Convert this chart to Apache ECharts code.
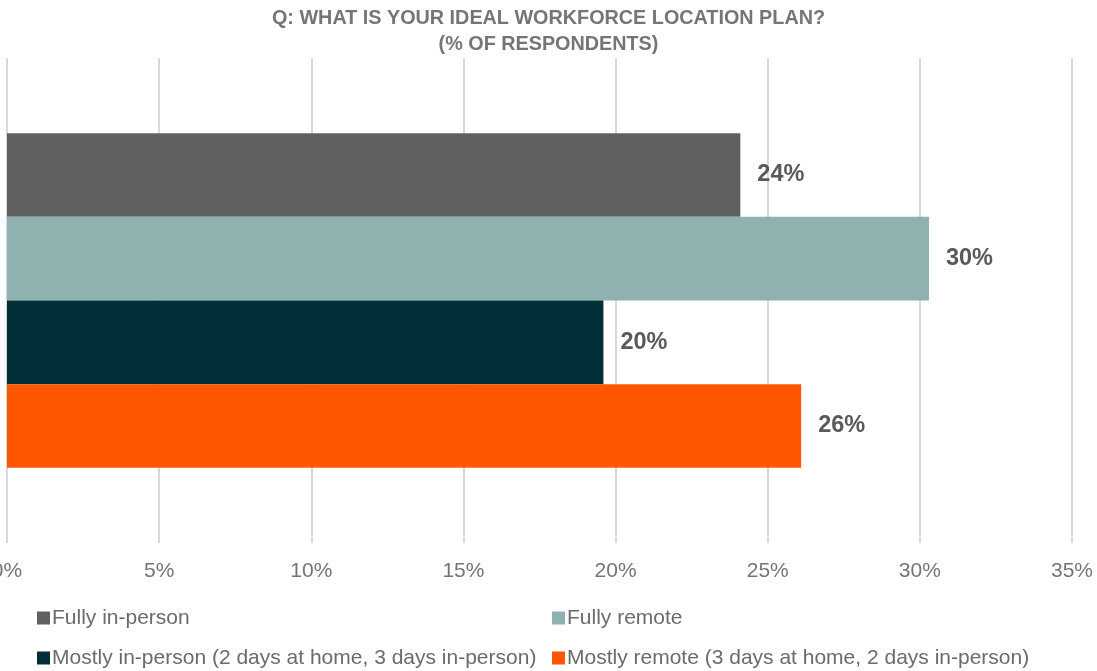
<!DOCTYPE html>
<html>
<head>
<meta charset="utf-8">
<script src="https://cdn.jsdelivr.net/npm/echarts@6/dist/echarts.min.js"></script>
<style>
  html, body { margin: 0; padding: 0; background: #fff; }
  #chart { width: 1097px; height: 671px; }
</style>
</head>
<body>
<div id="chart"></div>
<script>
// data
const categories = ['Ideal plan']
const seriesNames = [
  'Fully in-person',
  'Fully remote',
  'Mostly in-person (2 days at home, 3 days in-person)',
  'Mostly remote (3 days at home, 2 days in-person)'
]
const fullyInPerson = [24.1]
const fullyRemote = [30.3]
const mostlyInPerson = [19.6]
const mostlyRemote = [26.1]
const xTicks = [0, 5, 10, 15, 20, 25, 30, 35]

const colors = ['#606060', '#8FB2B1', '#012F38', '#FF5600']
const font = 'Liberation Sans, Arial, sans-serif'

const myChart = echarts.init(document.getElementById('chart'))

const makeSeries = (name, data, i) => ({
  name: name,
  type: 'bar',
  data: data,
  barGap: '0%',
  barCategoryGap: '31%',
  itemStyle: { color: colors[i] },
  label: {
    show: true,
    position: 'right',
    distance: 17,
    fontFamily: font,
    fontSize: 23.5,
    fontWeight: 'bold',
    color: '#595959',
    padding: [5, 0, 0, 0],
    formatter: p => Math.round(p.value) + '%'
  }
})

const legendText = { fontFamily: font, fontSize: 21, color: '#6b6b6b', padding: [0, 0, 0, -3], lineHeight: 22 }

const option = {
  animation: false,
  title: {
    text: 'Q: WHAT IS YOUR IDEAL WORKFORCE LOCATION PLAN?\n(% OF RESPONDENTS)',
    left: 'center',
    top: 6,
    padding: 0,
    textStyle: {
      fontFamily: font,
      fontSize: 19.8,
      fontWeight: 'bold',
      color: '#757575',
      lineHeight: 26
    }
  },
  legend: [
    {
      data: [seriesNames[0], seriesNames[2]],
      orient: 'vertical',
      left: 37,
      top: 607,
      padding: 0,
      itemWidth: 13,
      itemHeight: 13,
      itemGap: 18,
      icon: 'rect',
      textStyle: legendText
    },
    {
      data: [seriesNames[1], seriesNames[3]],
      orient: 'vertical',
      left: 552,
      top: 607,
      padding: 0,
      itemWidth: 13,
      itemHeight: 13,
      itemGap: 18,
      icon: 'rect',
      textStyle: legendText
    }
  ],
  grid: {
    left: 7,
    right: 25,
    top: 58,
    bottom: 128,
    containLabel: false,
    outerBoundsMode: 'none'
  },
  xAxis: {
    type: 'value',
    min: xTicks[0],
    max: xTicks[xTicks.length - 1],
    interval: 5,
    axisLine: { show: false },
    axisTick: { show: false },
    axisLabel: {
      margin: 18,
      fontFamily: font,
      fontSize: 21,
      color: '#757575',
      formatter: v => v + '%'
    },
    splitLine: {
      lineStyle: { color: '#D9D9D9', width: 2 }
    }
  },
  yAxis: {
    type: 'category',
    data: categories,
    axisLine: { show: false },
    axisTick: { show: false },
    axisLabel: { show: false }
  },
  series: [
    makeSeries(seriesNames[0], fullyInPerson, 0),
    makeSeries(seriesNames[1], fullyRemote, 1),
    makeSeries(seriesNames[2], mostlyInPerson, 2),
    makeSeries(seriesNames[3], mostlyRemote, 3)
  ]
}
myChart.setOption(option)
</script>
</body>
</html>
